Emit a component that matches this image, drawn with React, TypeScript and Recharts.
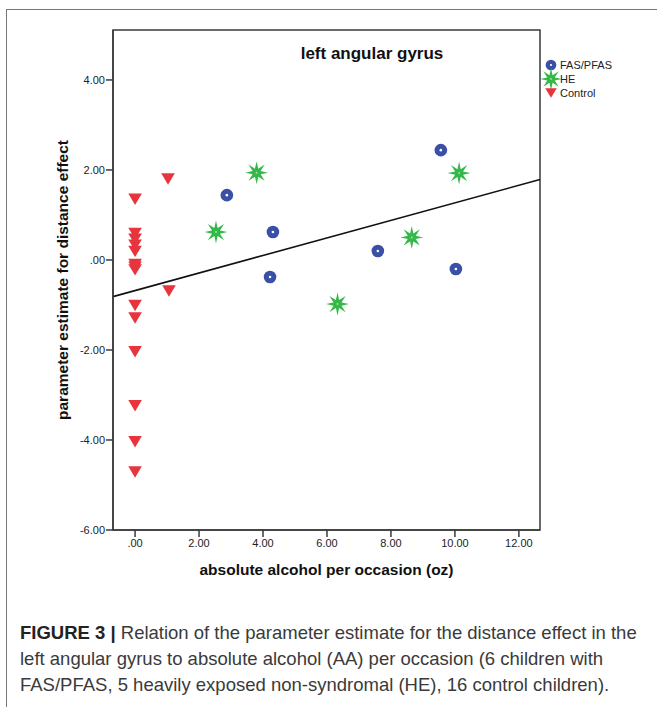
import React from 'react';
import {
  ScatterChart,
  Scatter,
  XAxis,
  YAxis,
  ReferenceArea,
  ReferenceLine } from
'recharts';

// values
const fasX = [2.87, 4.31, 4.22, 7.59, 9.56, 10.03];
const fasY = [1.44, 0.62, -0.38, 0.2, 2.44, -0.2];
const heX = [3.8, 2.53, 8.65, 10.13, 6.33];
const heY = [1.94, 0.62, 0.5, 1.93, -0.98];
const controlX = [0, 0, 0, 0, 0, 0, 0, 0, 0, 0, 0, 0, 0, 0, 1.03, 1.06];
const controlY = [1.35, 0.59, 0.46, 0.33, 0.19, -0.1, -0.16, -0.22, -1.01, -1.29, -2.04, -3.24, -4.04, -4.71, 1.8, -0.69];
const xTicks = [0, 2, 4, 6, 8, 10, 12];
const yTicks = [-6, -4, -2, 0, 2, 4];
const xDomain = [-0.69, 12.66];
const yDomain = [-6, 5.11];
const fitIntercept = -0.68;
const fitSlope = 0.195;

const BLUE = '#3a4fa6';
const GREEN = '#35b84a';
const RED = '#e8343c';
const AXIS = '#3a3a3a';
const FONT = '"Liberation Sans", Arial, sans-serif';

const toPoints = (xs: number[], ys: number[]) => xs.map((x, i) => ({ x, y: ys[i] }));
const fasData = toPoints(fasX, fasY);
const heData = toPoints(heX, heY);
const controlData = toPoints(controlX, controlY);

const fmt = (v: number) => v.toFixed(2).replace(/^(-?)0\./, '$1.');

function Dot({ cx, cy, size = 1 }: any) {
  return (
    <g>
      <circle cx={cx} cy={cy} r={6.3 * size} fill={BLUE} />
      <circle cx={cx} cy={cy} r={1.3 * size} fill="#fff" />
    </g>);

}

function Star({ cx, cy, size = 1 }: any) {
  const pts: string[] = [];
  for (let i = 0; i < 16; i++) {
    const r = (i % 2 === 0 ? 11.5 : 4.3) * size;
    const a = i * Math.PI / 8 - Math.PI / 2;
    pts.push(`${cx + r * Math.cos(a)},${cy + r * Math.sin(a)}`);
  }
  return (
    <g>
      <polygon points={pts.join(' ')} fill={GREEN} />
      <circle cx={cx} cy={cy} r={1 * size} fill="#9fe0a8" />
    </g>);

}

function Tri({ cx, cy, size = 1 }: any) {
  const w = 6.8 * size;
  const h = 5.7 * size;
  return <polygon points={`${cx - w},${cy - h} ${cx + w},${cy - h} ${cx},${cy + h}`} fill={RED} />;
}

const series = [
{ name: 'FAS/PFAS', data: fasData, Shape: Dot },
{ name: 'HE', data: heData, Shape: Star },
{ name: 'Control', data: controlData, Shape: Tri }];


function LegendBox() {
  return (
    <div style={{ fontFamily: FONT, fontSize: 11, color: '#222' }}>
      {series.map((s) =>
      <div key={s.name} style={{ display: 'flex', alignItems: 'center', height: 14 }}>
          <svg width={16} height={14} style={{ overflow: 'visible' }}>
            <s.Shape cx={8} cy={7} size={s.name === 'HE' ? 0.95 : 0.85} />
          </svg>
          <span style={{ marginLeft: 1 }}>{s.name}</span>
        </div>
      )}
    </div>);

}

export default function App() {
  const tickStyle = { fontFamily: FONT, fontSize: 11, fill: '#222' };
  const titleStyle = { fontFamily: FONT, fontSize: 15.5, fontWeight: 700, fill: '#111' };
  return (
    <div style={{ position: 'absolute', left: 0, top: 0, width: 657, height: 707, background: '#fff', overflow: 'hidden' }}>
      <div style={{ position: 'absolute', left: 6, top: 9, width: 660, height: 710, borderTop: '1px solid #777', borderLeft: '1px solid #777' }} />
      <div style={{ position: 'absolute', left: 0, top: 0 }}>
        <ScatterChart width={657} height={600} margin={{ top: 30, right: 117, bottom: 20, left: 53 }}>
          <XAxis
            type="number"
            dataKey="x"
            domain={xDomain}
            ticks={xTicks}
            allowDataOverflow
            tickFormatter={fmt}
            tick={tickStyle}
            tickSize={7}
            tickMargin={2}
            height={50}
            stroke={AXIS}
            strokeWidth={1.5}
            label={{ value: 'absolute alcohol per occasion (oz)', position: 'insideBottom', offset: 5, style: titleStyle }} />
          
          <YAxis
            type="number"
            dataKey="y"
            domain={yDomain}
            ticks={yTicks}
            allowDataOverflow
            tickFormatter={fmt}
            tick={tickStyle}
            tickSize={7}
            tickMargin={1}
            width={60}
            stroke={AXIS}
            strokeWidth={1.5}
            label={{ value: 'parameter estimate for distance effect', angle: -90, position: 'insideLeft', offset: 9, style: { ...titleStyle, textAnchor: 'middle' } }} />
          
          <ReferenceArea x1={xDomain[0]} x2={xDomain[1]} y1={yDomain[0]} y2={yDomain[1]} fill="none" stroke={AXIS} strokeWidth={1.5} fillOpacity={0} ifOverflow="visible" />
          <ReferenceLine
            segment={[
            { x: xDomain[0], y: fitIntercept + fitSlope * xDomain[0] },
            { x: xDomain[1], y: fitIntercept + fitSlope * xDomain[1] }]
            }
            stroke="#111"
            strokeWidth={1.6}
            ifOverflow="visible" />
          
          {series.map((s) =>
          <Scatter
            key={s.name}
            name={s.name}
            data={s.data}
            isAnimationActive={false}
            shape={(p: any) => <s.Shape cx={p.cx} cy={p.cy} />} />

          )}
        </ScatterChart>
      </div>
      <div style={{ position: 'absolute', left: 543, top: 58 }}>
        <LegendBox />
      </div>
      <div style={{ position: 'absolute', left: 230, top: 44, width: 284, textAlign: 'center', fontFamily: FONT, fontSize: 17, fontWeight: 700, color: '#111' }}>
        left angular gyrus
      </div>
      <div style={{ position: 'absolute', left: 20, top: 620, width: 640, fontFamily: FONT, fontSize: 18.5, lineHeight: '26px', color: '#3a3a3a', whiteSpace: 'nowrap' }}>
        <b style={{ color: '#222' }}>FIGURE 3 |</b> Relation of the parameter estimate for the distance effect in the<br />
        left angular gyrus to absolute alcohol (AA) per occasion (6 children with<br />
        FAS/PFAS, 5 heavily exposed non-syndromal (HE), 16 control children).
      </div>
    </div>);

}
